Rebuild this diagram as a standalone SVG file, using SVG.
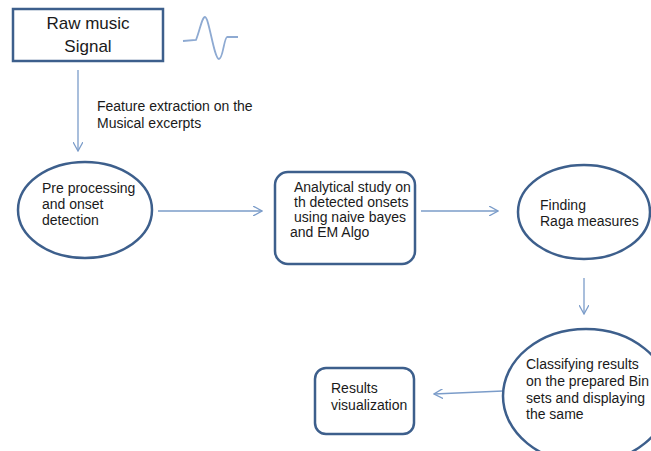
<svg xmlns="http://www.w3.org/2000/svg" width="651" height="451" viewBox="0 0 651 451">
<defs>
<style>
.node{fill:#fff;stroke:#3d5f8c;stroke-width:2.5}
.t{font-family:"Liberation Sans",Arial,sans-serif;font-size:14px;fill:#1a1a1a}
.big{font-family:"Liberation Sans",Arial,sans-serif;font-size:17px;fill:#1a1a1a}
.c{fill:none;stroke:#7b9cc9;stroke-width:1.3}
</style>
<marker id="ah" viewBox="0 0 10 10" refX="9" refY="5" markerWidth="10" markerHeight="10" markerUnits="userSpaceOnUse" orient="auto">
<path d="M0,0 L9,5 L0,10" fill="none" stroke="#7b9cc9" stroke-width="1.3"/>
</marker>
</defs>
<rect width="651" height="451" fill="#fff"/>
<g id="connectors">
<line class="c" x1="78" y1="70" x2="78" y2="151" marker-end="url(#ah)"/>
<line class="c" x1="158" y1="211" x2="262" y2="211" marker-end="url(#ah)"/>
<line class="c" x1="421" y1="211" x2="498" y2="211" marker-end="url(#ah)"/>
<line class="c" x1="584" y1="278" x2="584" y2="314" marker-end="url(#ah)"/>
<line class="c" x1="503" y1="391" x2="434" y2="394" marker-end="url(#ah)"/>
<text class="t" x="97" y="111">Feature extraction on the</text>
<text class="t" x="97" y="128">Musical excerpts</text>
</g>
<g id="wave">
<path d="M183,41 L196,40 C200,30 202,17 205,17 C209,17 214,59 219,59 C223,59 224,38 227,37 L238,37" fill="none" stroke="#8eaad2" stroke-width="1.8"/>
</g>
<g id="raw">
<rect class="node" x="13" y="9" width="150" height="52"/>
<text class="big" x="88" y="29" text-anchor="middle">Raw music</text>
<text class="big" x="88" y="52" text-anchor="middle">Signal</text>
</g>
<g id="pre">
<ellipse class="node" cx="85" cy="210" rx="67" ry="48"/>
<text class="t" x="42" y="193">Pre processing</text>
<text class="t" x="42" y="209">and onset</text>
<text class="t" x="42" y="225">detection</text>
</g>
<g id="analytical">
<rect class="node" x="275" y="172" width="140" height="92" rx="13"/>
<text class="t" x="294" y="192">Analytical study on</text>
<text class="t" x="294" y="207">th detected onsets</text>
<text class="t" x="294" y="222">using naive bayes</text>
<text class="t" x="290" y="237">and EM Algo</text>
</g>
<g id="raga">
<ellipse class="node" cx="584" cy="212" rx="66" ry="47"/>
<text class="t" x="540" y="210">Finding</text>
<text class="t" x="540" y="226">Raga measures</text>
</g>
<g id="classify">
<ellipse class="node" cx="586" cy="396" rx="83" ry="67"/>
<text class="t" x="526" y="369">Classifying results</text>
<text class="t" x="526" y="386">on the prepared Bin</text>
<text class="t" x="526" y="403">sets and displaying</text>
<text class="t" x="526" y="419">the same</text>
</g>
<g id="results">
<rect class="node" x="315" y="368" width="99" height="66" rx="11"/>
<text class="t" x="331" y="393">Results</text>
<text class="t" x="331" y="410">visualization</text>
</g>
</svg>
